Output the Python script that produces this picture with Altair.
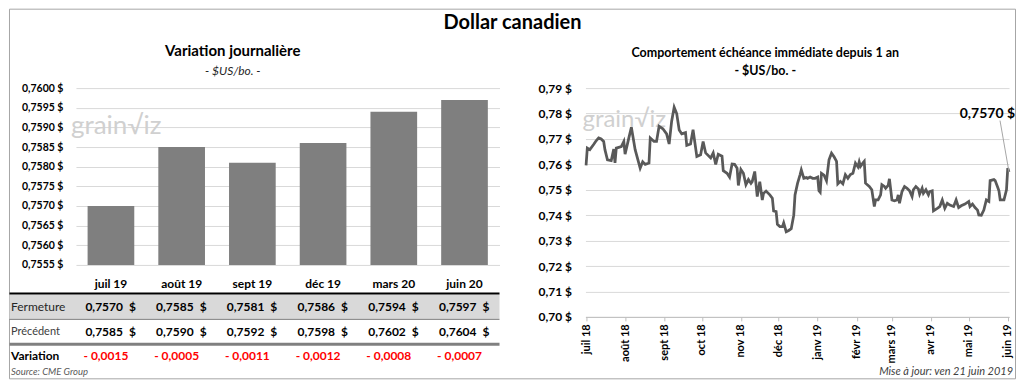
import altair as alt
import pandas as pd

FONT = "Lato"

# ---------------- data ----------------
months = ["juil 19", "août 19", "sept 19", "déc 19", "mars 20", "juin 20"]
close_vals = [0.7570, 0.7585, 0.7581, 0.7586, 0.7594, 0.7597]
prev_vals = [0.7585, 0.7590, 0.7592, 0.7598, 0.7602, 0.7604]
left_ticks = [0.7555, 0.7560, 0.7565, 0.7570, 0.7575, 0.7580, 0.7585, 0.7590, 0.7595, 0.7600]
right_ticks = [0.70, 0.71, 0.72, 0.73, 0.74, 0.75, 0.76, 0.77, 0.78, 0.79]
fr_months = ["janv", "févr", "mars", "avr", "mai", "juin", "juil", "août", "sept", "oct", "nov", "déc"]
row_names = ["Fermeture", "Précédent", "Variation"]

series_start = "2018-07-01"
day_offsets = [0, 1, 3, 6, 8, 10, 12, 14, 15, 17,
               20, 22, 23, 24, 28, 30, 31, 34, 36, 39,
               43, 45, 47, 50, 51, 54, 56, 58, 61, 64,
               66, 68, 70, 72, 74, 76, 79, 80, 83, 85,
               88, 91, 93, 95, 99, 101, 103, 105, 108, 109,
               112, 114, 116, 118, 120, 121, 123, 125, 127, 129,
               131, 132, 134, 136, 138, 140, 141, 143, 146, 148,
               149, 151, 152, 154, 156, 157, 159, 161, 163, 165,
               166, 168, 170, 171, 173, 175, 176, 178, 180, 182,
               184, 185, 186, 187, 189, 191, 193, 195, 197, 199,
               200, 202, 204, 206, 208, 210, 212, 214, 216, 217,
               218, 220, 221, 222, 225, 227, 229, 230, 232, 234,
               235, 237, 238, 240, 241, 243, 245, 247, 248, 249,
               251, 253, 255, 257, 259, 260, 262, 264, 265, 267,
               268, 270, 272, 273, 275, 276, 279, 281, 283, 285,
               287, 289, 292, 294, 296, 298, 301, 304, 305, 307,
               309, 311, 312, 314, 316, 318, 320, 321, 324, 325,
               327, 328, 329, 332, 334, 335, 336]
line_values = [0.7596, 0.7664, 0.7658, 0.7678, 0.7693, 0.7704, 0.7700, 0.7690, 0.7658, 0.7618,
               0.7615, 0.7660, 0.7606, 0.7664, 0.7670, 0.7690, 0.7640, 0.7704, 0.7746, 0.7658,
               0.7585, 0.7610, 0.7600, 0.7605, 0.7704, 0.7690, 0.7690, 0.7750, 0.7740, 0.7720,
               0.7680, 0.7770, 0.7825, 0.7800, 0.7735, 0.7720, 0.7725, 0.7675, 0.7680, 0.7736,
               0.7631, 0.7638, 0.7690, 0.7645, 0.7625, 0.7645, 0.7600, 0.7640, 0.7632, 0.7575,
               0.7565, 0.7550, 0.7601, 0.7600, 0.7585, 0.7517, 0.7580, 0.7565, 0.7520, 0.7540,
               0.7525, 0.7532, 0.7572, 0.7473, 0.7532, 0.7460, 0.7486, 0.7495, 0.7480, 0.7467,
               0.7417, 0.7414, 0.7364, 0.7355, 0.7355, 0.7370, 0.7335, 0.7340, 0.7347, 0.7400,
               0.7480, 0.7525, 0.7559, 0.7578, 0.7545, 0.7548, 0.7545, 0.7550, 0.7545, 0.7545,
               0.7550, 0.7496, 0.7490, 0.7565, 0.7558, 0.7535, 0.7618, 0.7644, 0.7630, 0.7612,
               0.7523, 0.7533, 0.7523, 0.7559, 0.7545, 0.7560, 0.7565, 0.7605, 0.7590, 0.7610,
               0.7592, 0.7606, 0.7612, 0.7526, 0.7513, 0.7500, 0.7434, 0.7460, 0.7460, 0.7480,
               0.7520, 0.7513, 0.7506, 0.7517, 0.7543, 0.7460, 0.7457, 0.7460, 0.7480, 0.7447,
               0.7493, 0.7513, 0.7506, 0.7496, 0.7473, 0.7500, 0.7513, 0.7503, 0.7483, 0.7506,
               0.7486, 0.7500, 0.7480, 0.7493, 0.7496, 0.7417, 0.7427, 0.7434, 0.7460, 0.7427,
               0.7447, 0.7440, 0.7434, 0.7460, 0.7430, 0.7437, 0.7444, 0.7454, 0.7434, 0.7444,
               0.7430, 0.7420, 0.7401, 0.7400, 0.7420, 0.7460, 0.7454, 0.7536, 0.7540, 0.7536,
               0.7510, 0.7496, 0.7460, 0.7460, 0.7500, 0.7585, 0.7570]

main_title = "Dollar canadien"
left_title = "Variation journalière"
right_title = "Comportement échéance immédiate depuis 1 an"
unit_text = "- $US/bo. -"
source_text = "Source: CME Group"
update_text = "Mise à jour: ven 21 juin 2019"
watermark = "grain√iz"


def fr_num(v, nd=4):
    return f"{v:.{nd}f}".replace(".", ",")


tbl = pd.DataFrame({"month": months, "close": close_vals, "prev": prev_vals})
tbl["close_txt"] = tbl["close"].map(fr_num)
tbl["prev_txt"] = tbl["prev"].map(fr_num)
tbl["var_txt"] = (tbl["close"] - tbl["prev"]).map(
    lambda v: ("- " if v < 0 else "+ ") + fr_num(abs(v)))
tbl["dollar"] = "$"

start = pd.Timestamp(series_start)
ser = pd.DataFrame({
    "date": [(start + pd.Timedelta(days=d)).strftime("%Y-%m-%dT%H:%M:%S") for d in day_offsets],
    "value": line_values,
})
last = ser.iloc[[-1]].copy()
last["label"] = last["value"].map(lambda v: fr_num(v) + " $")

# ---------------- helpers ----------------
def label(text, x, y, size, weight="normal", style="normal", align="center",
          color="#000000", baseline="middle"):
    return alt.Chart(pd.DataFrame({"t": [text]})).mark_text(
        align=align, baseline=baseline, fontSize=size, fontWeight=weight,
        fontStyle=style, color=color, font=FONT
    ).encode(x=alt.value(x), y=alt.value(y), text="t:N")


def hline(x1, x2, y, color, width):
    return alt.Chart(pd.DataFrame({"k": [0]})).mark_rule(
        color=color, strokeWidth=width
    ).encode(x=alt.value(x1), x2=alt.value(x2), y=alt.value(y))


def band(x1, x2, y1, y2, color):
    return alt.Chart(pd.DataFrame({"k": [0]})).mark_rect(color=color).encode(
        x=alt.value(x1), x2=alt.value(x2), y=alt.value(y1), y2=alt.value(y2))


# ---------------- left panel ----------------
LW, LH = 424, 177
xl = alt.X("month:N", sort=months,
           scale=alt.Scale(paddingInner=0.34, paddingOuter=0.165),
           axis=alt.Axis(title=None, labelAngle=0, labelFontWeight="bold",
                         labelFontSize=12, labelColor="#000000", labelPadding=14,
                         ticks=False, domain=False, labelFont=FONT))
yl = alt.Y("close:Q",
           scale=alt.Scale(domain=[0.7555, 0.7600], nice=False, zero=False),
           axis=alt.Axis(title=None, values=left_ticks,
                         labelExpr="replace(format(datum.value, '.4f'), '.', ',') + ' $'",
                         gridColor="#d9d9d9", domain=False, ticks=False,
                         labelPadding=13, labelFontSize=10.5, labelFontWeight="bold",
                         labelColor="#000000", labelFont=FONT))

base = alt.Chart(tbl)
bars = base.mark_bar(color="#7f7f7f").encode(x=xl, y=yl, y2=alt.datum(0.7555))


def row_text(field, y, dx, align, color="#000000", size=12, weight="bold"):
    return base.mark_text(align=align, baseline="middle", dx=dx, fontSize=size,
                          fontWeight=weight, color=color, font=FONT).encode(
        x=xl, y=alt.value(y), text=f"{field}:N")


R1, R2, R3 = 219.5, 244.5, 268.5
border = alt.Chart(pd.DataFrame({"k": [0]})).mark_rect(
    fillOpacity=0, stroke="#a6a6a6", strokeWidth=1).encode(
    x=alt.value(-66.5), x2=alt.value(940.5), y=alt.value(-79), y2=alt.value(291))

left = alt.layer(
    border,
    label(watermark, -5, 45.5, 26, color="#d0d0d0", align="left", baseline="alphabetic"),
    bars,
    band(-66.5, 424, 206.5, 231, "#d9d9d9"),
    hline(-66.5, 424, 205.5, "#000000", 2),
    hline(-66.5, 424, 231.5, "#7f7f7f", 1),
    hline(-66.5, 424, 256.5, "#808080", 3),
    row_text("close_txt", R1, 12, "right"),
    row_text("dollar", R1, 18, "left"),
    row_text("prev_txt", R2, 12, "right"),
    row_text("dollar", R2, 18, "left"),
    row_text("var_txt", R3, -5, "center", color="#ff0000"),
    label(row_names[0], -65, R1, 12, color="#262626", align="left"),
    label(row_names[1], -65, R2, 11, color="#404040", align="left"),
    label(row_names[2], -65, R3, 12, weight="bold", align="left"),
    label(source_text, -65, 284, 9.5, style="italic", color="#595959", align="left"),
    label(main_title, 437, -65.5, 20, weight="bold"),
    label(left_title, 157, -37.5, 15, weight="bold"),
    label(unit_text, 157, -17.5, 12, style="italic", color="#262626"),
).properties(width=LW, height=LH)

# ---------------- right panel ----------------
RW, RH = 424, 229
month_expr = "[" + ",".join(f"'{m}'" for m in fr_months) + "]"
xr = alt.X("date:T",
           scale=alt.Scale(domain=[alt.DateTime(year=2018, month=6, date=30, hours=12),
                                   alt.DateTime(year=2019, month=6, date=2)]),
           axis=alt.Axis(title=None, tickCount=alt.TimeIntervalStep(interval="month", step=1),
                         labelExpr=month_expr + "[month(datum.value)] + ' ' + timeFormat(datum.value, '%y')",
                         labelAngle=270, labelFontSize=11, labelFontWeight="bold",
                         labelColor="#000000", labelPadding=3, tickSize=4,
                         tickColor="#bfbfbf", domainColor="#bfbfbf", grid=False,
                         labelFont=FONT, labelOverlap=False))
yr = alt.Y("value:Q",
           scale=alt.Scale(domain=[0.70, 0.79], nice=False, zero=False),
           axis=alt.Axis(title=None, values=right_ticks,
                         labelExpr="replace(format(datum.value, '.2f'), '.', ',') + ' $'",
                         gridColor="#d9d9d9", domain=False, ticks=False,
                         labelPadding=14, labelFontSize=12, labelFontWeight="bold",
                         labelColor="#000000", labelFont=FONT))

line = alt.Chart(ser).mark_line(color="#595959", strokeWidth=2.75).encode(x=xr, y=yr)
leader = alt.Chart(last).mark_rule(color="#a6a6a6", strokeWidth=1).encode(
    x=xr, y=yr, x2=alt.value(415), y2=alt.value(32.5))
end_label = alt.Chart(last).mark_text(
    align="right", baseline="middle", dx=6, dy=-58, fontSize=14,
    fontWeight="bold", color="#000000", font=FONT).encode(x=xr, y=yr, text="label:N")

right = alt.layer(
    label(watermark, -3, 39, 24, color="#d0d0d0", align="left", baseline="alphabetic"),
    line,
    leader,
    end_label,
    label(right_title, 180, -35.5, 12.5, weight="bold"),
    label(unit_text, 180, -17.5, 12.5, weight="bold"),
    label(update_text, 428, 284, 11, style="italic", color="#404040", align="right"),
).properties(width=RW, height=RH)

chart = alt.hconcat(left, right, spacing=86, bounds="flush").properties(
    padding=0
).configure_view(stroke=None).configure_text(font=FONT)

chart.save("out.html", embed_options={"renderer": "svg", "actions": False})
